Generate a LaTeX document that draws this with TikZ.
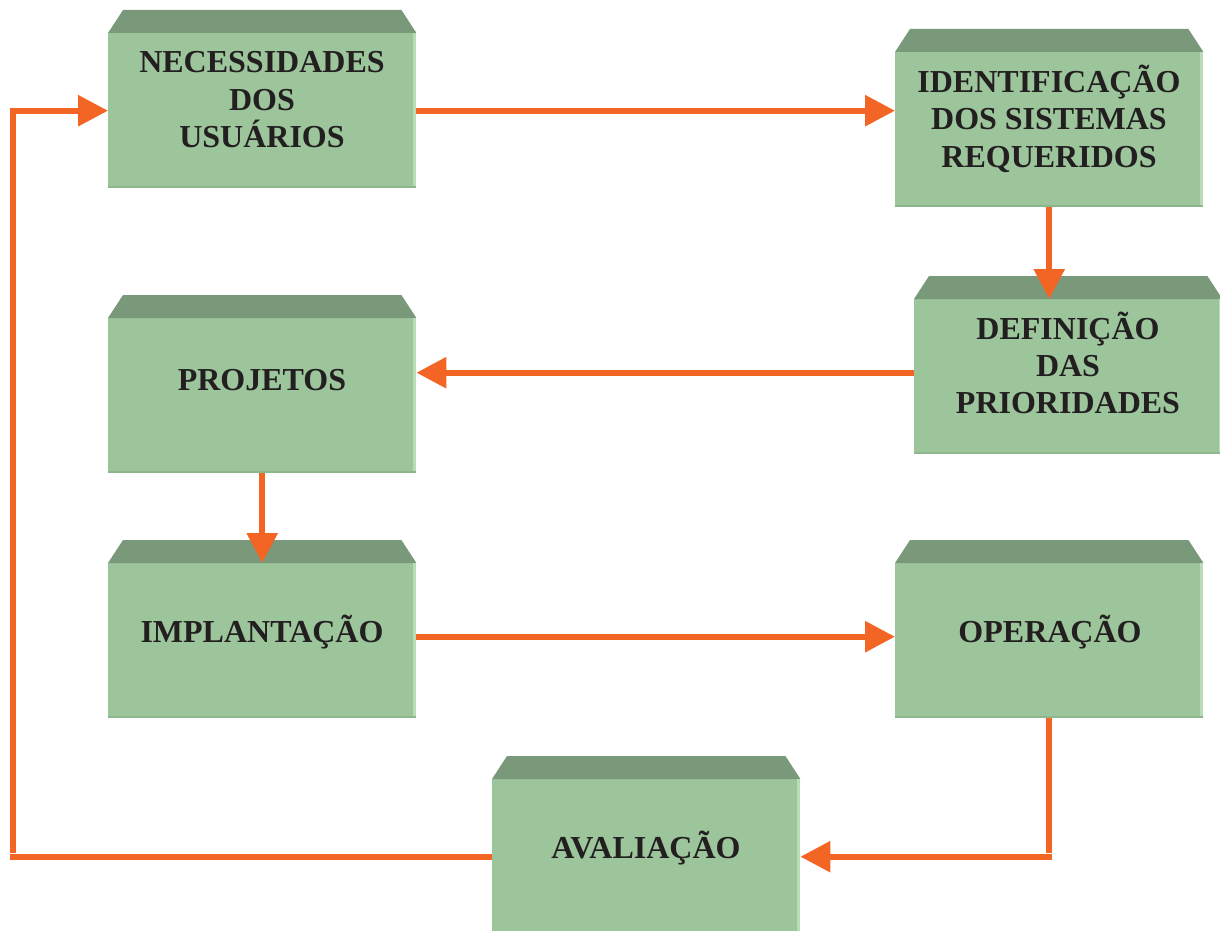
\documentclass[tikz,border=0pt]{standalone}
\usepackage{fontspec}
\setmainfont{Liberation Serif}
\usetikzlibrary{arrows.meta,calc}
\definecolor{bodyc}{RGB}{156,197,156}
\definecolor{capc}{RGB}{122,152,122}
\definecolor{edgec}{RGB}{184,220,184}
\definecolor{botc}{RGB}{140,182,140}
\definecolor{orng}{RGB}{243,101,36}
\definecolor{txtc}{RGB}{35,31,32}
\tikzset{
  body/.style={fill=bodyc, draw=none, inner sep=0pt, minimum width=308pt, minimum height=155pt, anchor=north west},
  lbl/.style={text=txtc, font=\fontsize{32}{37}\selectfont\bfseries, align=center, anchor=base, inner sep=0pt},
  conn/.style={draw=orng, line width=6pt, line join=miter},
  arr/.style={conn, -{Triangle[length=30pt,width=30pt]}}
}
\newcommand\greenbox[1]{%
  \fill[capc] (#1.north west) -- ([xshift=15pt,yshift=23pt]#1.north west) -- ([xshift=-15pt,yshift=23pt]#1.north east) -- (#1.north east) -- cycle;
  \fill[edgec] ([xshift=-3pt]#1.north east) rectangle (#1.south east);
  \fill[botc] (#1.south west) rectangle ([yshift=2pt]#1.south east);
}
\begin{document}
\begin{tikzpicture}[x=1pt,y=-1pt]
\useasboundingbox (0,0) rectangle (1220,931);
% bodies
\node[body] (b1) at (108,33) {};
\node[body] (b2) at (895,52) {};
\node[body] (b3) at (914,299) {};
\node[body] (b4) at (108,318) {};
\node[body] (b5) at (108,563) {};
\node[body] (b6) at (895,563) {};
\node[body] (b7) at (492,779) {};
\greenbox{b1}\greenbox{b2}\greenbox{b3}\greenbox{b4}\greenbox{b5}\greenbox{b6}\greenbox{b7}
% texts (base anchor = baseline of last line)
\node[lbl] (t1) at (262,147) {NECESSIDADES\\DOS\\USUÁRIOS};
\node[lbl] (t2) at (1049,167) {IDENTIFICAÇÃO\\DOS SISTEMAS\\REQUERIDOS};
\node[lbl] (t3) at (1068,413) {DEFINIÇÃO\\DAS\\PRIORIDADES};
\node[lbl] (t4) at (262,390) {PROJETOS};
\node[lbl] (t5) at (262,642) {IMPLANTAÇÃO};
\node[lbl] (t6) at (1050,642) {OPERAÇÃO};
\node[lbl] (t7) at (646,858) {AVALIAÇÃO};
% connectors
\draw[arr] (b1.east) -- (b1.east -| b2.west);
\draw[arr] (b2.south) -- (b2.south |- b3.north);
\draw[arr] ([yshift=4pt]b3.west) -- ([yshift=4pt]b3.west -| b4.east);
\draw[arr] (b4.south) -- (b4.south |- b5.north);
\draw[arr] ([yshift=4pt]b5.east) -- ([yshift=4pt]b5.east -| b6.west);
\draw[conn] (b6.south) -- ([yshift=4pt]b6.south |- b7.east);
\draw[arr] ([xshift=3pt]b6.south |- b7.east) -- (b7.east);
\coordinate (lb) at (13,853);
\draw[conn] (b7.west) -- ([xshift=-3pt]b7.west -| lb);
\draw[arr] (lb) |- (b1.west);
\end{tikzpicture}
\end{document}
